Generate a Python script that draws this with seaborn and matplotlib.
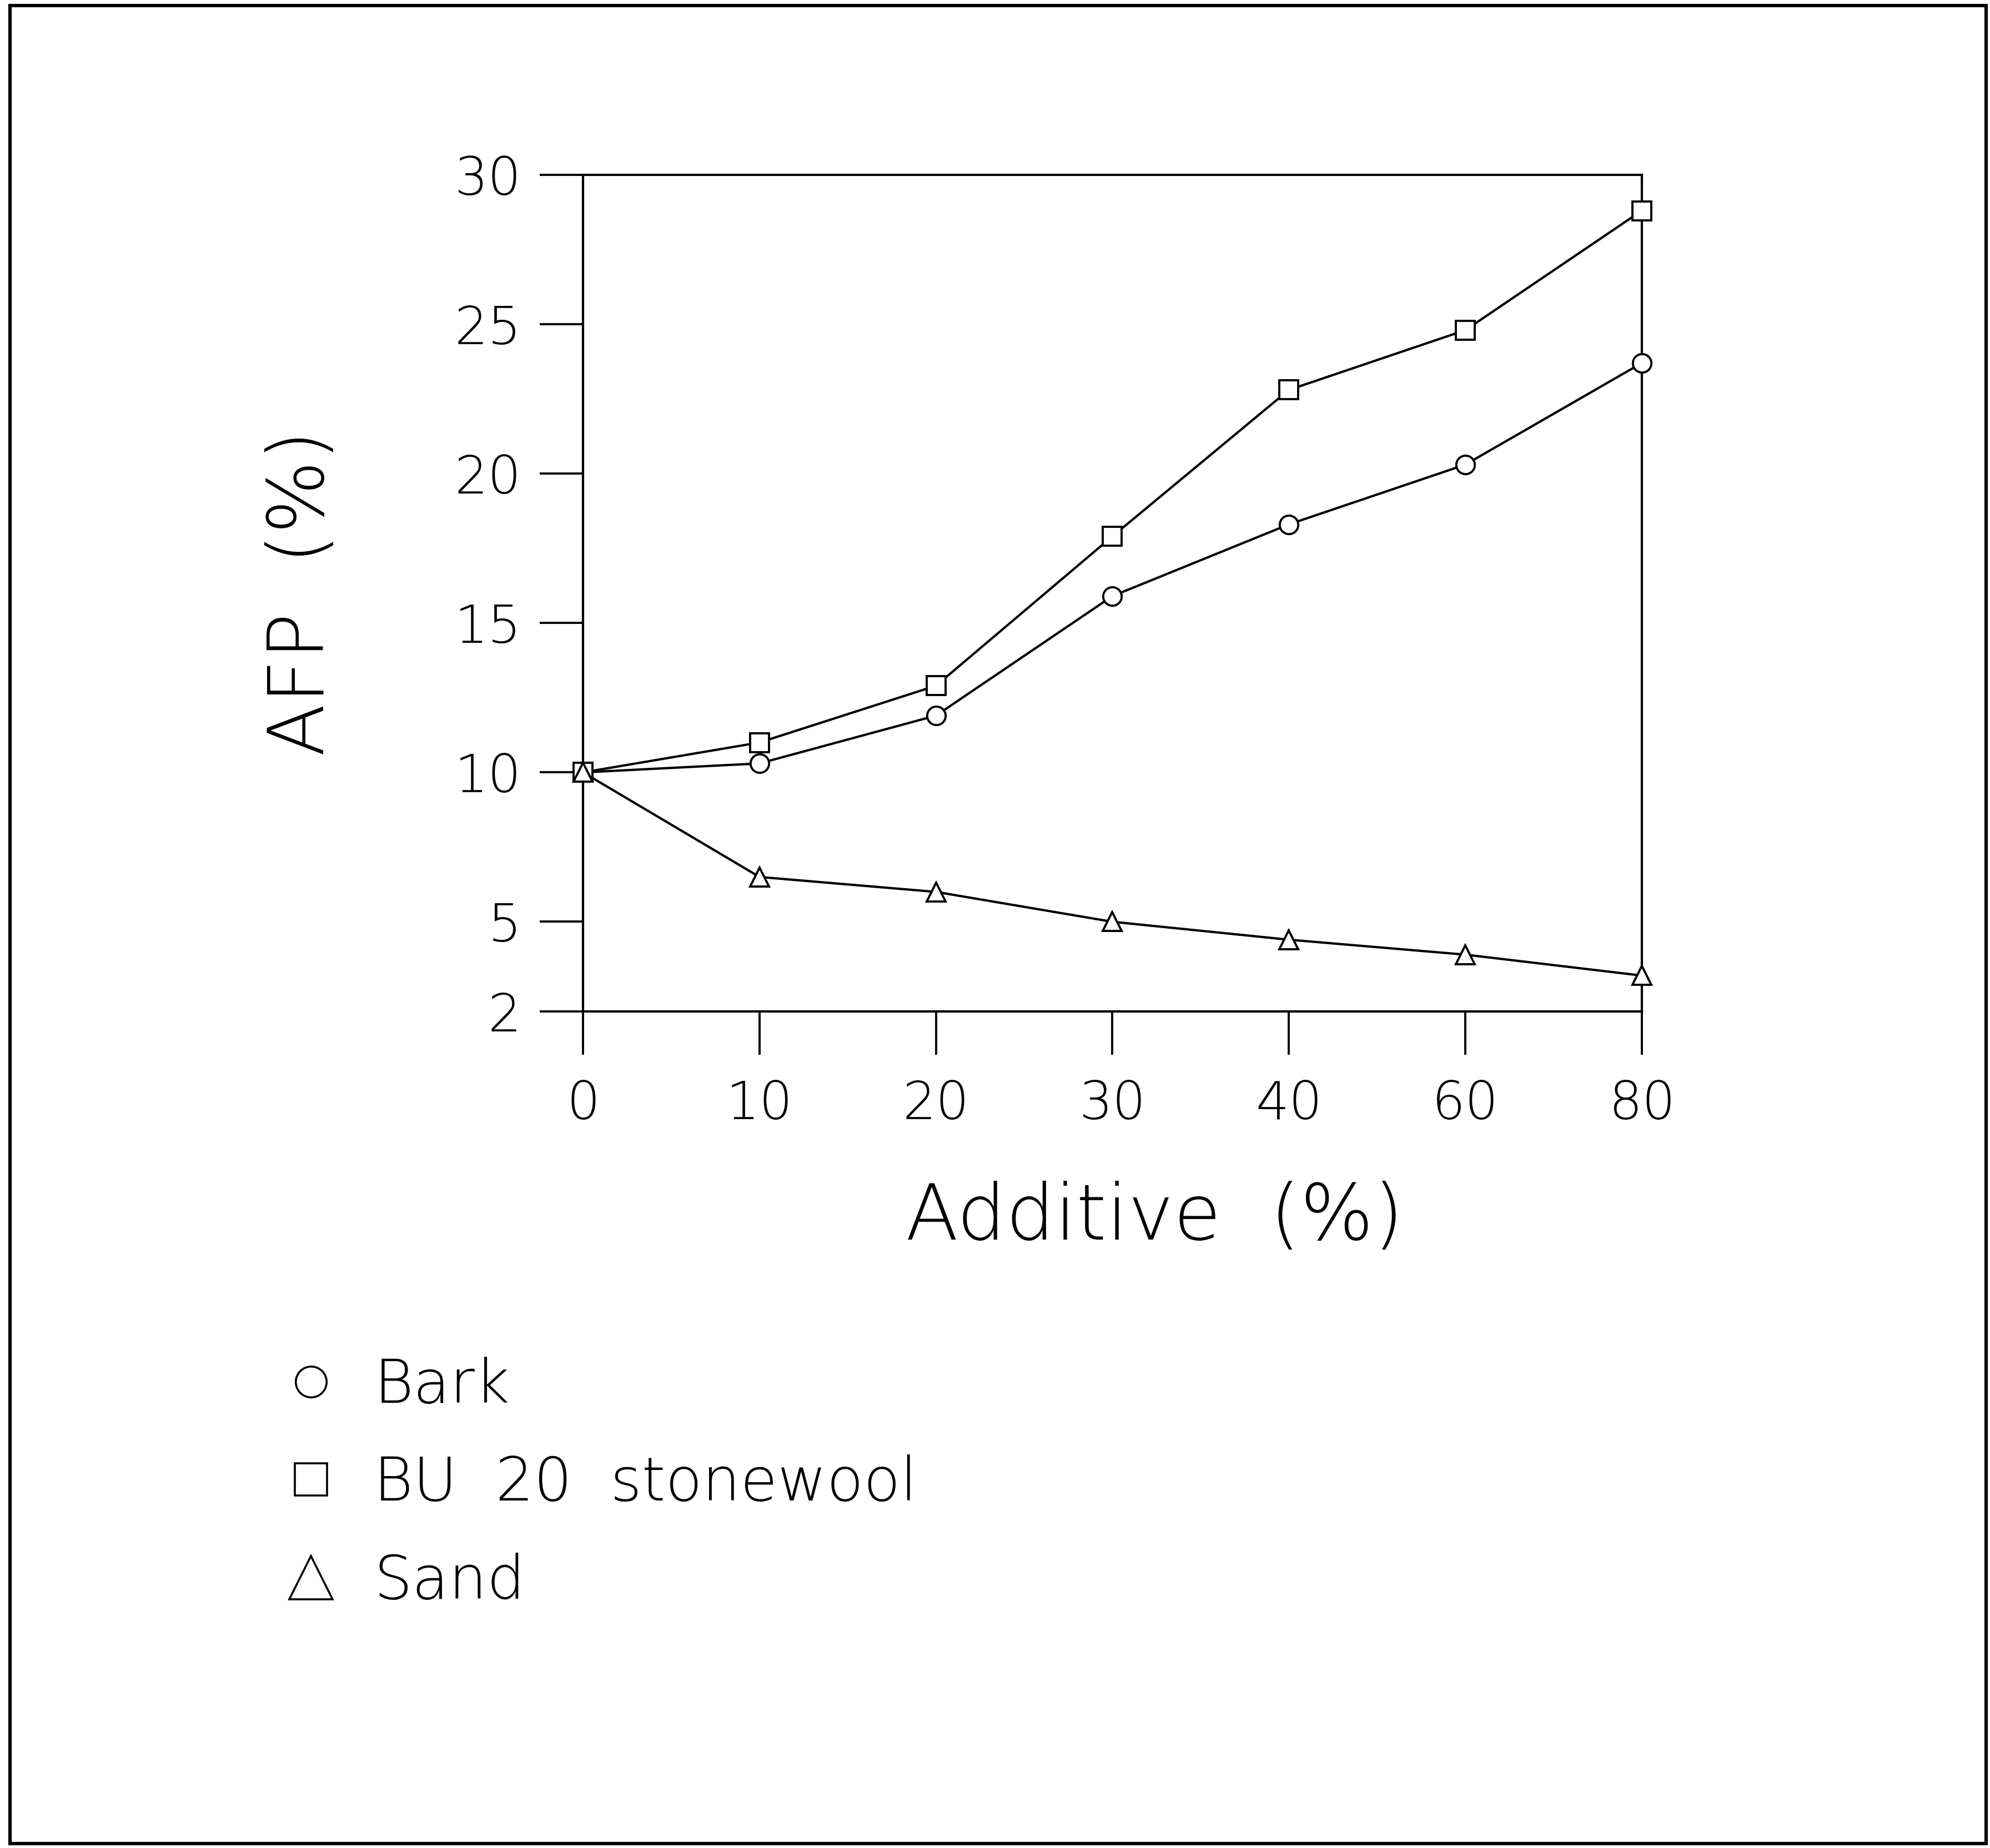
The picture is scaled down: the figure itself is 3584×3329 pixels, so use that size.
import pandas as pd
import numpy as np
import matplotlib.pyplot as plt
from matplotlib.lines import Line2D
from matplotlib.patches import Rectangle
import seaborn as sns

# Data
additive = ["0", "10", "20", "30", "40", "60", "80"]
bark      = [10.0, 10.3, 11.9, 15.9, 18.3, 20.3, 23.7]
stonewool = [10.0, 11.0, 12.9, 17.9, 22.8, 24.8, 28.8]
sand      = [10.0, 6.5, 6.0, 5.0, 4.4, 3.9, 3.2]
materials = ["Bark", "BU  20  stonewool", "Sand"]
y_ticks = [2, 5, 10, 15, 20, 25, 30]

rows = []
for name, vals in zip(materials, [bark, stonewool, sand]):
    for i, (lvl, v) in enumerate(zip(additive, vals)):
        rows.append({"pos": i, "Additive": lvl, "AFP": v, "Material": name})
df = pd.DataFrame(rows)

# Style
sns.set_theme(style="ticks")
plt.rcParams["font.family"] = ["DejaVu Sans"]
plt.rcParams["font.weight"] = "light"
MARKERS = {"Bark": "o", "BU  20  stonewool": "s", "Sand": "^"}

fig = plt.figure(figsize=(17.92, 16.645), dpi=200)
ax = fig.add_axes([0.293, 0.4527, 0.532, 0.4527])

sns.lineplot(data=df, x="pos", y="AFP", style="Material", markers=MARKERS,
             dashes=False, color="black", linewidth=1.5, markersize=12,
             markerfacecolor="white", markeredgecolor="black",
             markeredgewidth=1.4, legend=False, clip_on=False, zorder=3, ax=ax)

ax.set_xlim(0, len(additive) - 1)
ax.set_ylim(2, 30)
ax.set_xticks(range(len(additive)))
ax.set_xticklabels(additive)
ax.set_yticks(y_ticks)
ax.tick_params(axis="both", direction="out", length=28, width=1.4,
               labelsize=34, colors="black")
ax.tick_params(axis="y", pad=12)
ax.tick_params(axis="x", pad=16)
for s in ax.spines.values():
    s.set_linewidth(1.5)
    s.set_color("black")

ax.set_xlabel("Additive  (%)", fontsize=50, fontweight="light", color="black")
ax.set_ylabel("AFP  (%)", fontsize=50, fontweight="light", color="black")
ax.xaxis.label.set_va("center")
ax.yaxis.label.set_va("center")
ax.xaxis.set_label_coords(0.54, -0.247)
ax.yaxis.set_label_coords(-0.265, 0.5)

# Legend below the axes
handles = [
    Line2D([], [], linestyle="none", marker="o", markersize=20,
           markerfacecolor="white", markeredgecolor="black", markeredgewidth=1.3),
    Line2D([], [], linestyle="none", marker="s", markersize=21,
           markerfacecolor="white", markeredgecolor="black", markeredgewidth=1.3),
    Line2D([], [], linestyle="none", marker="^", markersize=28,
           markerfacecolor="white", markeredgecolor="black", markeredgewidth=1.3),
]
leg = fig.legend(handles, materials, loc="center left", bbox_to_anchor=(0.141, 0.197),
                 frameon=False, fontsize=39, handlelength=1.0, handletextpad=0.55,
                 labelspacing=0.65, borderpad=0, borderaxespad=0)
for t in leg.get_texts():
    t.set_color("black")

# outer frame
fig.patches.append(Rectangle((0.005, 0.0025), 0.993, 0.9945, transform=fig.transFigure,
                             fill=False, edgecolor="black", linewidth=2.2))

plt.savefig("out.png", dpi=200, facecolor="white")
plt.close()
